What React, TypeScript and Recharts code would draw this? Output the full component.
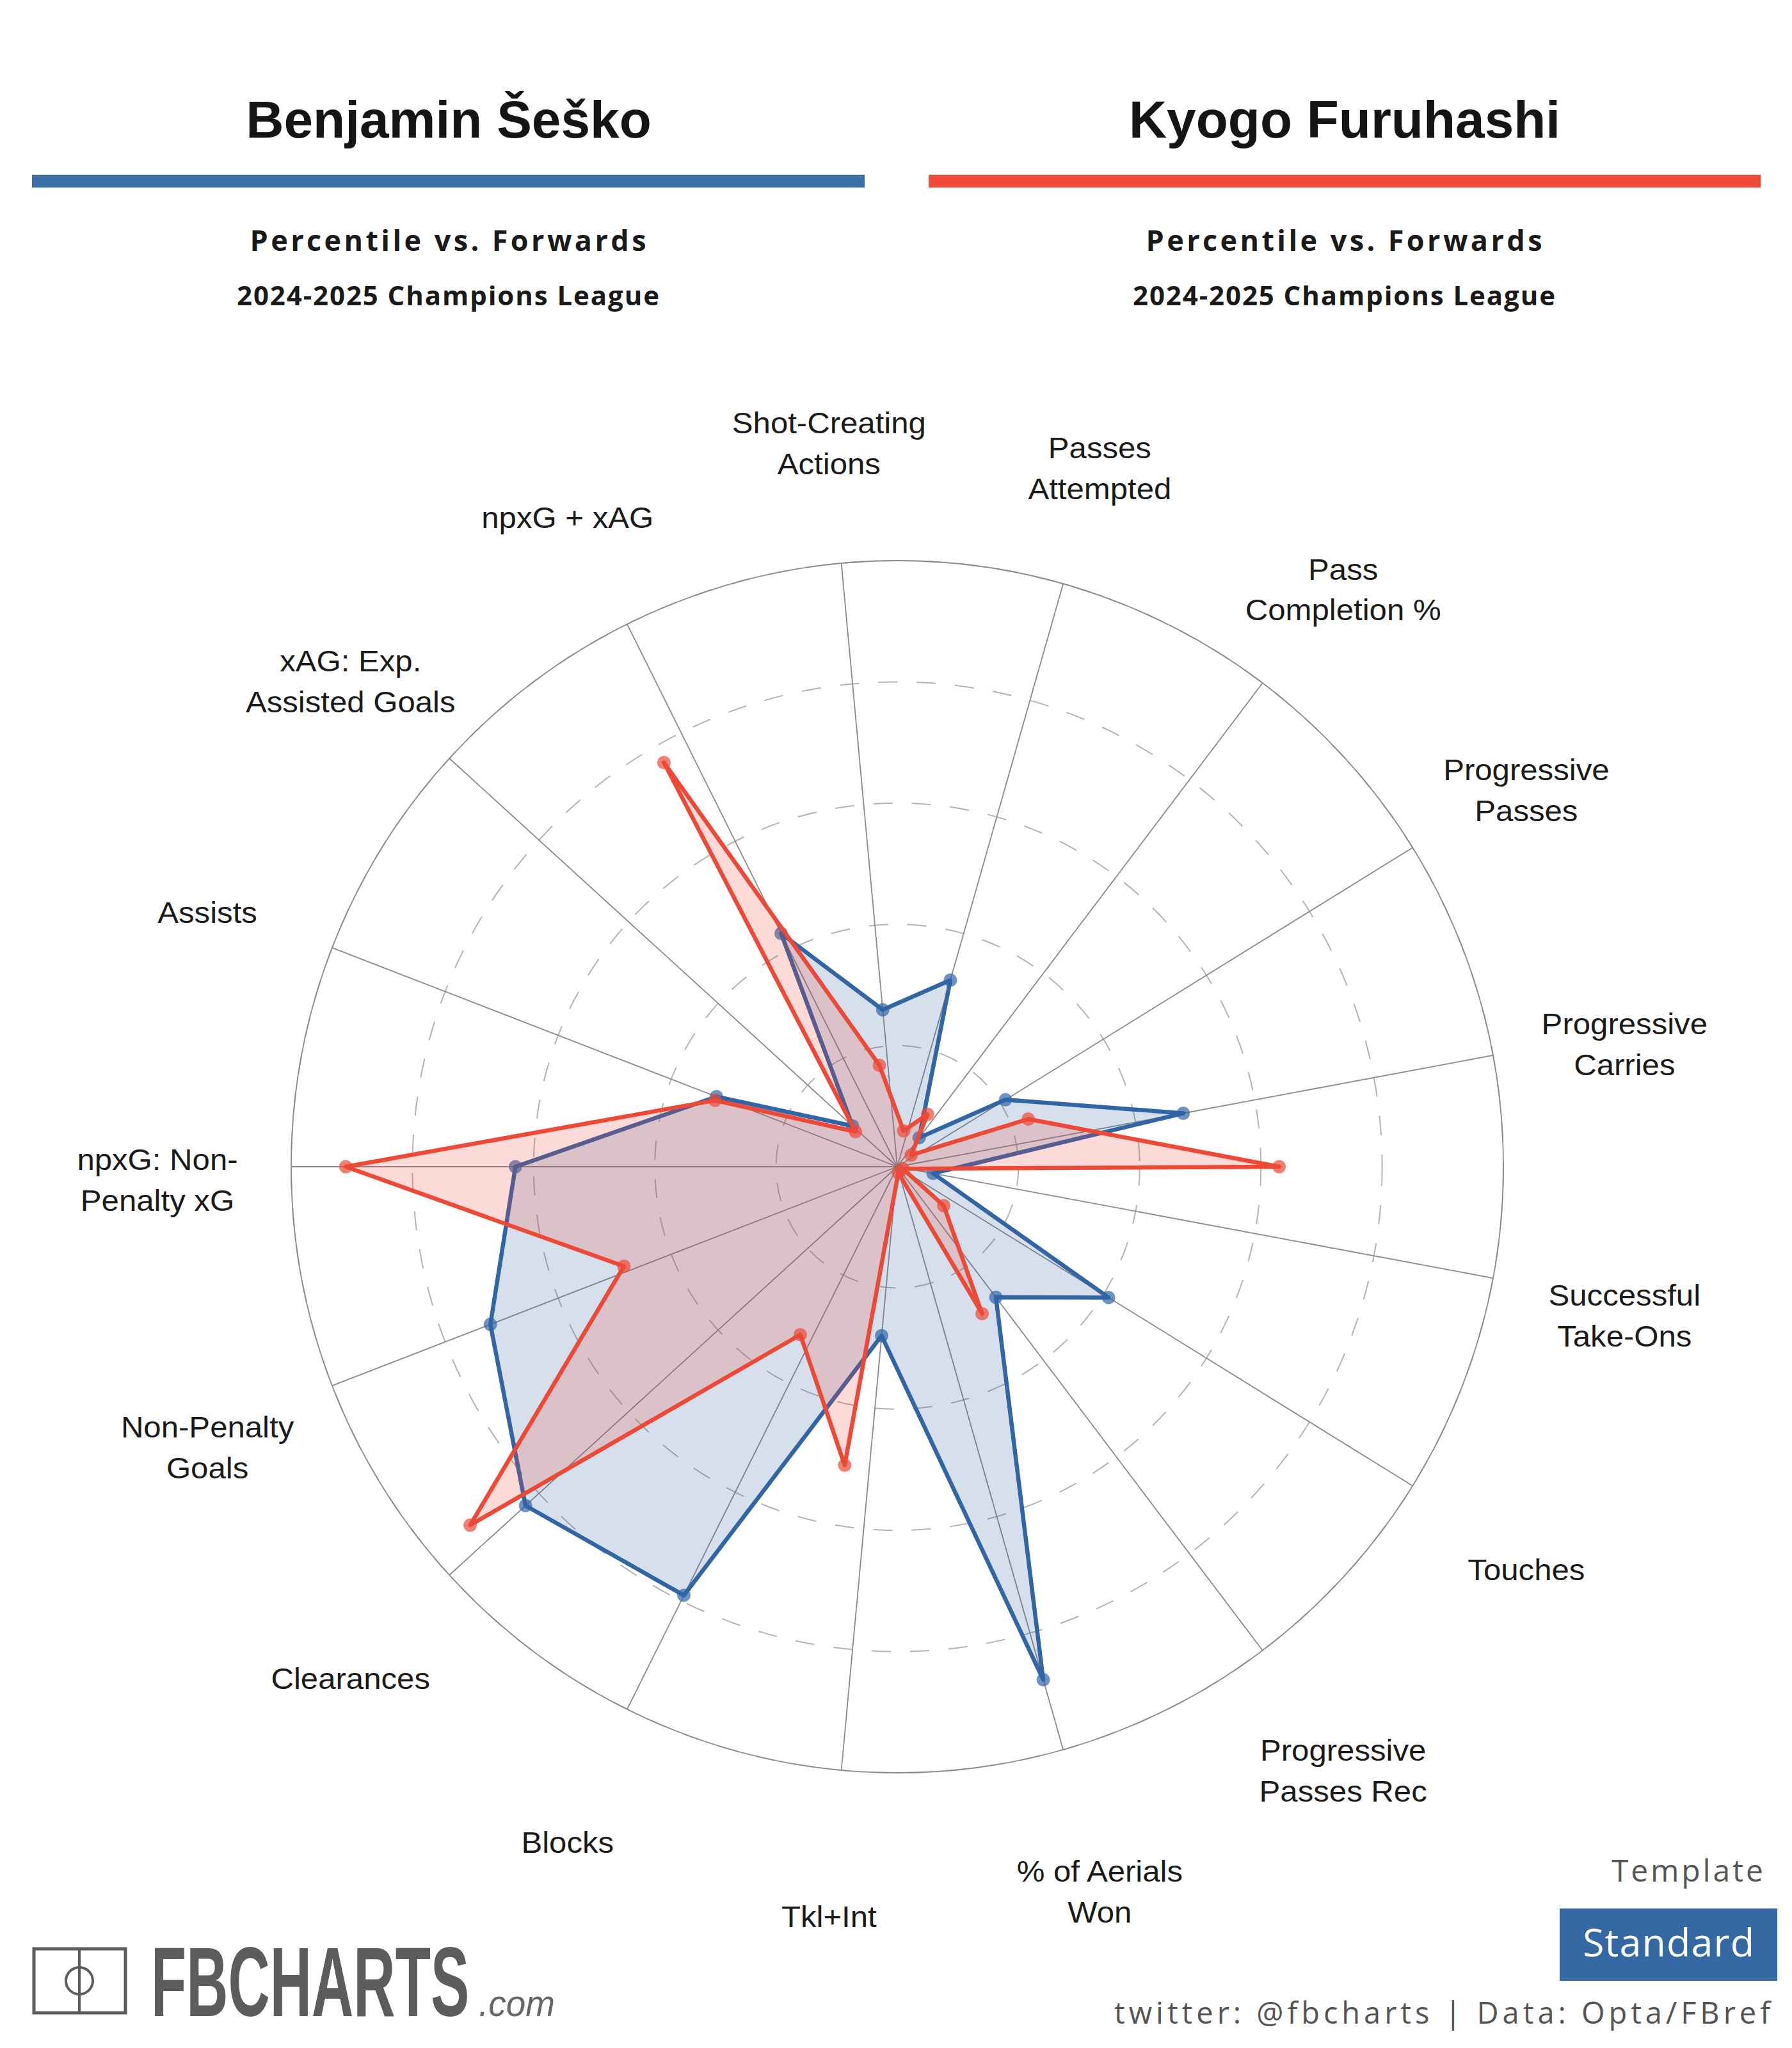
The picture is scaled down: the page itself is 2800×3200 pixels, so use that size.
import React from "react";
import {
  RadarChart,
  Radar,
  PolarGrid,
  PolarAngleAxis,
  PolarRadiusAxis,
} from "recharts";

// Axis labels, clockwise from the top ("\n" marks the label line break)
const categories = [
  "Shot-Creating\nActions",
  "Passes\nAttempted",
  "Pass\nCompletion %",
  "Progressive\nPasses",
  "Progressive\nCarries",
  "Successful\nTake-Ons",
  "Touches",
  "Progressive\nPasses Rec",
  "% of Aerials\nWon",
  "Tkl+Int",
  "Blocks",
  "Clearances",
  "Non-Penalty\nGoals",
  "npxG: Non-\nPenalty xG",
  "Assists",
  "xAG: Exp.\nAssisted Goals",
  "npxG + xAG",
];

const seskoValues = [26, 32, 6, 21, 48, 6, 41, 27, 88, 28, 79, 83, 72, 63, 32, 10, 43];

// Furuhashi's polygon in the source sits on 18 even slots (20 deg apart),
// not on the 17 labelled axes. Slot 1 is at 10 deg clockwise from the top.
const furuhashiSlots = [
  "r1", "r2", "r3", "r4", "r5", "r6", "r7", "r8", "r9",
  "r10", "r11", "r12", "r13", "r14", "r15", "r16", "r17", "r18",
];
const furuhashiValues = [6, 10, 3, 23, 63, 1, 10, 28, 1, 50, 32, 92, 48, 91, 32, 9, 77, 17];

const radiusTicks = [0, 20, 40, 60, 80, 100];

const W = 2800;
const H = 3200;
const CX = 1402;
const CY = 1823;
const R = 947;
const LABEL_R = 1156;
const LABEL_DY = 21;

const BLUE = "#3165a5";
const RED = "#ee4836";

// npxG sits due west in both polygons
const blueStart = 180 + (13 * 360) / categories.length - 360;
const redStart = 180 + (13 * 360) / furuhashiSlots.length - 360;

const seskoData = categories.map((c, i) => ({ stat: c, value: seskoValues[i] }));
const furuhashiData = furuhashiSlots.map((s, i) => ({ slot: s, value: furuhashiValues[i] }));

const AxisLabel = (props: any) => {
  const { payload } = props;
  const rad = (-payload.coordinate * Math.PI) / 180;
  const lx = CX + LABEL_R * Math.cos(rad);
  const ly = CY + LABEL_DY + LABEL_R * Math.sin(rad);
  const lines = String(payload.value).split("\n");
  const lh = 64;
  const first = -((lines.length - 1) * lh) / 2 + 16;
  return (
    <text
      transform={`translate(${lx},${ly}) scale(1.08,1)`}
      x={0}
      y={first}
      textAnchor="middle"
      fontFamily="'Liberation Sans', Arial, sans-serif"
      fontSize={45.5}
      fill="#1a1a1a"
    >
      {lines.map((l, i) => (
        <tspan key={i} x={0} y={first + i * lh}>
          {l}
        </tspan>
      ))}
    </text>
  );
};

const makeDot = (color: string) => (p: any) => (
  <circle
    key={`d-${p.index}`}
    cx={p.cx}
    cy={p.cy}
    r={10.5}
    fill={color}
    fillOpacity={0.7}
  />
);

const overlay: React.CSSProperties = { position: "absolute", left: 0, top: 0 };

function Decorations() {
  const head = "'Liberation Sans', Arial, sans-serif";
  const sub = "'Open Sans', 'DejaVu Sans', sans-serif";
  return (
    <svg width={W} height={H} style={overlay}>
      <rect x={0} y={0} width={W} height={H} fill="#fff" />
      {/* headers */}
      <text x={701} y={215} textAnchor="middle" fontFamily={head} fontWeight={700} fontSize={82} fill="#151515">
        Benjamin Šeško
      </text>
      <text x={2101} y={215} textAnchor="middle" fontFamily={head} fontWeight={700} fontSize={82} fill="#151515">
        Kyogo Furuhashi
      </text>
      <rect x={50} y={273} width={1301} height={20} fill="#3a6ea5" />
      <rect x={1451} y={273} width={1300} height={20} fill="#f04a3c" />
      {[700, 2100].map((x) => (
        <g key={x}>
          <text x={x} y={392} textAnchor="middle" fontFamily={sub} fontWeight={700} fontSize={45}
            fill="#1a1a1a" textLength={619} lengthAdjust="spacing">
            Percentile vs. Forwards
          </text>
          <text x={x} y={477} textAnchor="middle" fontFamily={sub} fontWeight={700} fontSize={42}
            fill="#1a1a1a" textLength={660} lengthAdjust="spacing">
            2024-2025 Champions League
          </text>
        </g>
      ))}
      {/* logo */}
      <rect x={53} y={3045} width={143} height={100} fill="none" stroke="#5c5c5c" strokeWidth={5} />
      <line x1={124} y1={3045} x2={124} y2={3145} stroke="#5c5c5c" strokeWidth={4} />
      <circle cx={124} cy={3095} r={21} fill="none" stroke="#5c5c5c" strokeWidth={4} />
      <text transform="translate(236,3150) scale(0.587,1)" x={0} y={0} fontFamily={head} fontWeight={700}
        fontSize={154} fill="#5c5c5c" textLength={847} lengthAdjust="spacingAndGlyphs">
        FBCHARTS
      </text>
      <text transform="translate(748,3150) scale(0.9,1)" x={0} y={0} fontFamily={head} fontStyle="italic"
        fontSize={58} fill="#666" textLength={132} lengthAdjust="spacingAndGlyphs">
        .com
      </text>
      {/* template badge */}
      <text x={2755} y={2940} textAnchor="end" fontFamily={sub} fontSize={48} fill="#555"
        textLength={237} lengthAdjust="spacing">
        Template
      </text>
      <rect x={2437} y={2982} width={340} height={113} fill="#3569a4" />
      <text x={2607} y={3057} textAnchor="middle" fontFamily={sub} fontSize={61} fill="#fff"
        textLength={268} lengthAdjust="spacing">
        Standard
      </text>
      <text x={2766} y={3162} textAnchor="end" fontFamily={sub} fontSize={47} fill="#555"
        textLength={1025} lengthAdjust="spacing">
        twitter: @fbcharts | Data: Opta/FBref
      </text>
    </svg>
  );
}

export default function App() {
  return (
    <div style={{ position: "absolute", left: 0, top: 0, width: W, height: H, background: "#fff" }}>
      <Decorations />
      <div style={overlay}>
        <RadarChart
          width={W}
          height={H}
          data={seskoData}
          cx={CX}
          cy={CY}
          outerRadius={R}
          startAngle={blueStart}
          endAngle={blueStart - 360}
          margin={{ top: 0, right: 0, bottom: 0, left: 0 }}
        >
          <PolarGrid gridType="circle" radialLines={false} stroke="#b3b3b3" strokeWidth={2} strokeDasharray="30 30" />
          <PolarGrid gridType="circle" polarRadius={[R]} stroke="#8a8a8a" strokeWidth={1.8} />
          <PolarRadiusAxis domain={[0, 100]} ticks={radiusTicks as any} tick={false} axisLine={false} />
          <PolarAngleAxis dataKey="stat" tick={<AxisLabel />} axisLine={false} tickLine={false} />
          <Radar
            dataKey="value"
            stroke={BLUE}
            strokeWidth={6.5}
            fill={BLUE}
            fillOpacity={0.2}
            strokeLinejoin="round"
            dot={makeDot(BLUE)}
            isAnimationActive={false}
          />
        </RadarChart>
      </div>
      <div style={overlay}>
        <RadarChart
          width={W}
          height={H}
          data={furuhashiData}
          cx={CX}
          cy={CY}
          outerRadius={R}
          startAngle={redStart}
          endAngle={redStart - 360}
          margin={{ top: 0, right: 0, bottom: 0, left: 0 }}
        >
          <PolarRadiusAxis domain={[0, 100]} ticks={radiusTicks as any} tick={false} axisLine={false} />
          <PolarAngleAxis dataKey="slot" tick={false} axisLine={false} tickLine={false} />
          <Radar
            dataKey="value"
            stroke={RED}
            strokeWidth={6.5}
            fill={RED}
            fillOpacity={0.2}
            strokeLinejoin="round"
            dot={makeDot(RED)}
            isAnimationActive={false}
          />
        </RadarChart>
      </div>
    </div>
  );
}
